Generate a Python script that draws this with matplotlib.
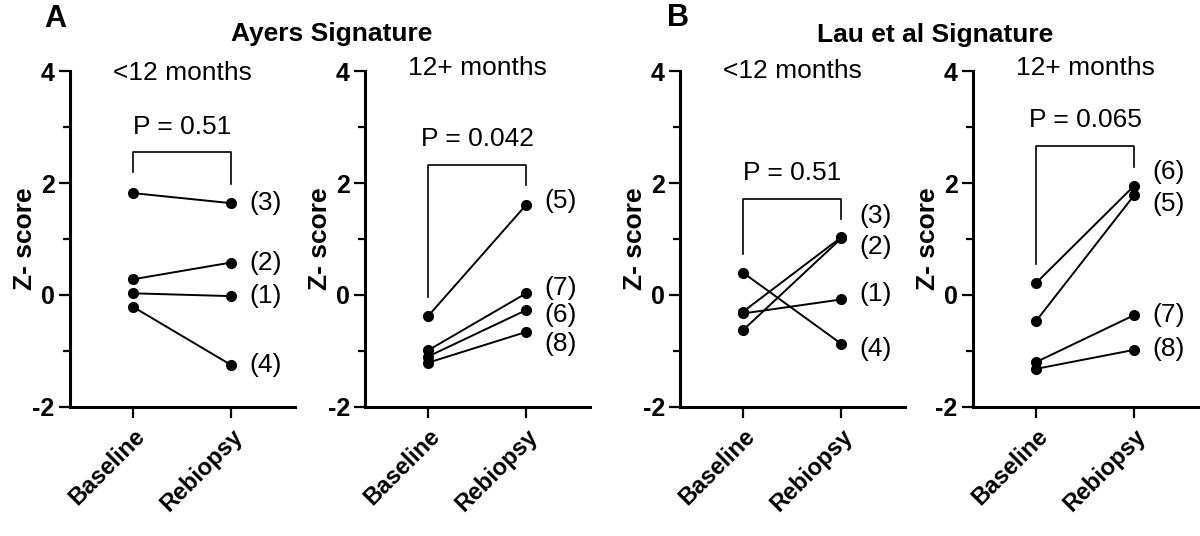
import matplotlib.pyplot as plt

plt.rcParams['font.family'] = ['Liberation Sans', 'DejaVu Sans']

conditions = ["Baseline", "Rebiopsy"]

# Ayers signature
ayers_short_base = [0.03, 0.28, 1.82, -0.21]
ayers_short_rebx = [-0.02, 0.58, 1.64, -1.25]
ayers_short_ids = ["(1)", "(2)", "(3)", "(4)"]
ayers_long_base = [-0.38, -1.10, -0.99, -1.21]
ayers_long_rebx = [1.61, -0.27, 0.03, -0.66]
ayers_long_ids = ["(5)", "(6)", "(7)", "(8)"]

# Lau et al signature
lau_short_base = [-0.33, -0.63, -0.30, 0.40]
lau_short_rebx = [-0.08, 1.01, 1.03, -0.87]
lau_short_ids = ["(1)", "(2)", "(3)", "(4)"]
lau_long_base = [-0.47, 0.21, -1.20, -1.32]
lau_long_rebx = [1.78, 1.95, -0.36, -0.98]
lau_long_ids = ["(5)", "(6)", "(7)", "(8)"]

# label y positions (text), p values, bracket heights
panels = [
    dict(base=ayers_short_base, rebx=ayers_short_rebx, ids=ayers_short_ids,
         label_y=[-0.02, 0.58, 1.64, -1.25], sub="<12 months", p="P = 0.51",
         br=(2.19, 1.99, 2.55), p_y=3.0, sub_y=3.96),
    dict(base=ayers_long_base, rebx=ayers_long_rebx, ids=ayers_long_ids,
         label_y=[1.67, -0.36, 0.12, -0.87], sub="12+ months", p="P = 0.042",
         br=(-0.03, 1.96, 2.33), p_y=2.78, sub_y=4.05),
    dict(base=lau_short_base, rebx=lau_short_rebx, ids=lau_short_ids,
         label_y=[0.01, 0.85, 1.41, -0.97], sub="<12 months", p="P = 0.51",
         br=(0.73, 1.36, 1.72), p_y=2.18, sub_y=4.0),
    dict(base=lau_long_base, rebx=lau_long_rebx, ids=lau_long_ids,
         label_y=[1.62, 2.19, -0.36, -0.96], sub="12+ months", p="P = 0.065",
         br=(0.56, 2.29, 2.66), p_y=3.12, sub_y=4.05),
]

lefts = [0.0583, 0.3042, 0.5667, 0.8108]
fig = plt.figure(figsize=(12, 5.36), dpi=100)

for left, pn in zip(lefts, panels):
    ax = fig.add_axes([left, 0.2407, 0.1875, 0.6268])
    for b, r in zip(pn["base"], pn["rebx"]):
        ax.plot([0, 1], [b, r], color="black", lw=1.4, marker="o",
                markersize=7, clip_on=False, zorder=3)
    for txt, ly in zip(pn["ids"], pn["label_y"]):
        ax.text(1.35, ly, txt, ha="center", va="center", fontsize=19)
    lo, ro, top = pn["br"]
    ax.plot([0, 0, 1, 1], [lo, top, top, ro], color="black", lw=1.2)
    ax.text(0.5, pn["p_y"], pn["p"], ha="center", va="center", fontsize=19)
    ax.text(0.5, pn["sub_y"], pn["sub"], ha="center", va="center", fontsize=19)

    ax.set_xlim(-0.64, 1.65)
    ax.set_ylim(-2, 4)
    ax.set_yticks([-2, 0, 2, 4])
    ax.set_yticks([-1, 1, 3], minor=True)
    ax.set_yticklabels(["-2", "0", "2", "4"], fontweight="bold", fontsize=18)
    ax.set_xticks([0, 1])
    ax.set_xticklabels(conditions, rotation=45, ha="right",
                       rotation_mode="anchor", fontweight="bold", fontsize=17)
    ax.set_ylabel("Z- score", fontweight="bold", fontsize=19, labelpad=-3)
    for s in ["top", "right"]:
        ax.spines[s].set_visible(False)
    for s in ["left", "bottom"]:
        ax.spines[s].set_linewidth(2.2)
    ax.tick_params(axis="both", which="major", length=8, width=1.6, pad=3)
    ax.tick_params(axis="x", which="major", pad=5)
    ax.tick_params(axis="y", which="minor", length=5, width=1.6)

fig.text(0.276, 0.937, "Ayers Signature", ha="center", va="center",
         fontweight="bold", fontsize=19)
fig.text(0.779, 0.935, "Lau et al Signature", ha="center", va="center",
         fontweight="bold", fontsize=19)
fig.text(0.046, 0.965, "A", ha="center", va="center", fontweight="bold", fontsize=22)
fig.text(0.565, 0.967, "B", ha="center", va="center", fontweight="bold", fontsize=22)

fig.savefig("out.png", dpi=100)
